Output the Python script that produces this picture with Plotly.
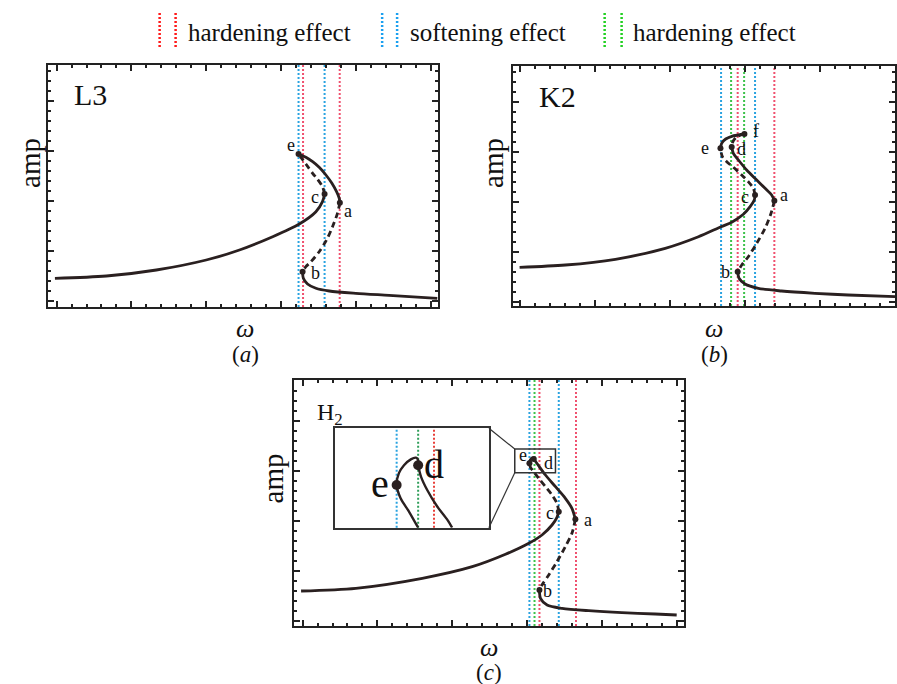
import plotly.graph_objects as go

W, H = 897, 684
FONT = "Liberation Serif, Times New Roman, serif"
CURVE = "#2a2020"
RED, BLUE, GREEN = "#f0506e", "#2aa3e0", "#3cc24a"
LEG_RED, LEG_BLUE, LEG_GREEN = "#ff1a1a", "#1aa0f0", "#22d022"

# ---------------- Panel (a): L3 ----------------
a_low_w   = [0.47, 3.91, 7.25, 10.58, 12.80, 15.02, 16.80, 17.91, 18.35, 18.49]
a_low_amp = [2.87, 3.10, 3.70, 4.70, 5.70, 7.03, 8.30, 9.53, 10.53, 11.30]
a_ce_w    = [18.49, 18.35, 18.02, 17.69, 17.24, 16.91, 16.75]
a_ce_amp  = [11.30, 12.03, 12.77, 13.37, 14.30, 14.97, 15.30]
a_ea_w    = [16.75, 17.24, 17.69, 18.13, 18.58, 18.98, 19.29, 19.47, 19.51]
a_ea_amp  = [15.30, 14.97, 14.53, 13.97, 13.20, 12.37, 11.53, 10.87, 10.43]
a_ab_w    = [19.51, 19.35, 19.02, 18.62, 18.13, 17.58, 17.24, 17.02]
a_ab_amp  = [10.43, 9.37, 8.03, 6.70, 5.53, 4.53, 4.03, 3.53]
a_hi_w    = [17.02, 17.07, 17.35, 17.91, 18.80, 20.58, 22.80, 26.02]
a_hi_amp  = [3.53, 2.87, 2.30, 1.87, 1.60, 1.37, 1.17, 0.87]
a_pts_w   = [16.75, 18.49, 19.51, 17.02]
a_pts_amp = [15.30, 11.30, 10.43, 3.53]
a_lbl     = ["e", "c", "a", "b"]
a_lbl_w   = [16.25, 17.85, 20.05, 17.85]
a_lbl_amp = [16.25, 11.05, 9.65, 3.40]
a_red     = [17.05, 19.50]
a_blue    = [16.75, 18.49]

# ---------------- Panel (b): K2 ----------------
b_low_w   = [0.45, 3.51, 6.85, 10.18, 12.40, 13.91, 14.62, 15.40, 15.85, 16.13, 16.18]
b_low_amp = [3.87, 4.10, 4.67, 5.77, 6.93, 7.93, 8.37, 9.17, 9.93, 10.60, 11.10]
b_ce_w    = [16.18, 16.07, 15.73, 15.29, 14.73, 14.29, 14.00, 13.87]
b_ce_amp  = [11.10, 11.77, 12.43, 13.10, 13.87, 14.43, 14.93, 15.77]
b_ef_w    = [13.87, 13.95, 14.22, 14.62, 15.07, 15.47]
b_ef_amp  = [15.77, 16.27, 16.70, 16.97, 17.10, 17.20]
b_fd_w    = [15.47, 15.00, 14.72, 14.62]
b_fd_amp  = [17.20, 16.95, 16.50, 15.90]
b_da_w    = [14.62, 14.73, 15.07, 15.62, 16.29, 16.85, 17.29, 17.47]
b_da_amp  = [15.90, 15.27, 14.60, 13.60, 12.60, 11.77, 11.10, 10.53]
b_ab_w    = [17.47, 17.25, 16.85, 16.29, 15.73, 15.29, 15.02]
b_ab_amp  = [10.53, 9.27, 7.77, 6.27, 4.93, 4.10, 3.43]
b_hi_w    = [15.02, 15.11, 15.51, 16.40, 17.95, 20.18, 22.40, 25.53]
b_hi_amp  = [3.43, 2.77, 2.20, 1.77, 1.50, 1.27, 1.10, 0.93]
b_pts_w   = [13.87, 14.62, 15.47, 16.18, 17.47, 15.02]
b_pts_amp = [15.77, 15.90, 17.20, 11.10, 10.53, 3.43]
b_lbl     = ["e", "d", "f", "c", "a", "b"]
b_lbl_w   = [12.85, 15.29, 16.25, 15.51, 18.10, 14.18]
b_lbl_amp = [15.77, 15.70, 17.45, 10.93, 11.10, 3.43]
b_red     = [15.02, 17.47]
b_blue    = [13.91, 16.18]
b_green   = [14.58, 15.45]

# ---------------- Panel (c): H2 ----------------
c_low_w   = [0.45, 4.11, 8.55, 11.89, 14.11, 15.67, 16.55, 17.22, 17.55, 17.67]
c_low_amp = [3.50, 3.77, 4.77, 5.93, 7.17, 8.27, 9.10, 10.10, 10.87, 11.43]
c_ce_w    = [17.67, 17.55, 17.22, 16.78, 16.33, 16.00, 15.78, 15.71]
c_ce_amp  = [11.43, 12.27, 13.10, 13.93, 14.77, 15.43, 15.87, 16.27]
c_ed_w    = [15.71, 15.77, 15.90, 16.00]
c_ed_amp  = [16.27, 16.60, 16.82, 16.70]
c_da_w    = [16.00, 16.29, 16.78, 17.45, 18.11, 18.55, 18.78]
c_da_amp  = [16.70, 16.10, 15.10, 13.93, 12.77, 11.77, 10.67]
c_ab_w    = [18.78, 18.55, 18.11, 17.55, 17.00, 16.55, 16.38]
c_ab_amp  = [10.67, 9.27, 7.93, 6.43, 5.10, 4.10, 3.60]
c_hi_w    = [16.38, 16.45, 16.89, 17.89, 19.67, 21.89, 24.11, 25.55]
c_hi_amp  = [3.60, 2.77, 2.10, 1.77, 1.53, 1.33, 1.20, 1.10]
c_pts_w   = [15.71, 16.00, 17.67, 18.78, 16.38]
c_pts_amp = [16.27, 16.70, 11.43, 10.67, 3.60]
c_lbl     = ["e", "d", "c", "a", "b"]
c_lbl_w   = [15.29, 17.00, 17.11, 19.65, 16.95]
c_lbl_amp = [17.10, 16.27, 11.27, 10.60, 3.50]
c_red     = [16.38, 18.82]
c_blue    = [15.71, 17.67]
c_green   = [16.05]

# zoom window (panel c data units) and inset curves
zoom_w    = [14.73, 17.45]
zoom_amp  = [15.33, 17.70]
i_left_w    = [16.20, 16.04, 15.89, 15.82, 15.86, 15.95, 16.07, 16.16, 16.20, 16.20]
i_left_amp  = [15.33, 15.71, 16.03, 16.35, 16.63, 16.82, 16.96, 17.00, 16.94, 16.82]
i_right_w   = [16.20, 16.25, 16.36, 16.54, 16.72, 16.80]
i_right_amp = [16.82, 16.55, 16.23, 15.83, 15.51, 15.33]
i_pts_w     = [15.82, 16.20]
i_pts_amp   = [16.35, 16.82]
i_lbl       = ["e", "d"]
i_lbl_w     = [15.52, 16.48]
i_lbl_amp   = [16.38, 16.84]
i_blue, i_green, i_red = [15.82], [16.20], [16.48]

legend_labels = ["hardening effect", "softening effect", "hardening effect"]

# ---------------- layout geometry (pixels) ----------------
def fx(px): return px / W
def fy(py): return 1 - py / H

panels = {
    # name: (left, right, top, bottom, xrange, yrange, xtick0, ytick0)
    "a": (48, 439, 65, 307, [0, 26.07], [0, 24.2], 0.58, 0.6),
    "b": (514, 897, 66, 306, [0, 25.53], [0, 24.0], 0.51, 0.4),
    "c": (295, 686, 380, 626, [0, 26.07], [0, 24.6], 0.55, 0.5),
}
inset_px = (335.7, 490, 428.3, 527.7)

fig = go.Figure()

def axis_style(dom, rng, t0):
    return dict(domain=dom, range=rng, showticklabels=False, showgrid=False,
                zeroline=False, showline=True, linecolor="#222", linewidth=2,
                mirror="allticks", ticks="inside", ticklen=6, tickwidth=1.5,
                tickcolor="#222", tick0=t0, dtick=5,
                minor=dict(ticks="inside", ticklen=3, tickwidth=1.5, tickcolor="#222",
                           tick0=t0, dtick=1, showgrid=False))

layout = dict(width=W, height=H, margin=dict(l=0, r=0, t=0, b=0),
              paper_bgcolor="white", plot_bgcolor="rgba(0,0,0,0)", showlegend=False,
              font=dict(family=FONT, color="#111", size=16))
axmap = {"a": ("", ""), "b": ("2", "2"), "c": ("3", "3")}
for k, (l, r, t, b, xr, yr, tx, ty) in panels.items():
    xs, ys = axmap[k]
    layout["xaxis" + xs] = dict(axis_style([fx(l), min(fx(r), 1.0)], xr, tx), anchor="y" + ys)
    layout["yaxis" + ys] = dict(axis_style([fy(b), fy(t)], yr, ty), anchor="x" + xs)
il, ir, it, ib = inset_px
layout["xaxis4"] = dict(domain=[fx(il), fx(ir)], range=zoom_w, anchor="y4", showticklabels=False,
                        showgrid=False, zeroline=False, showline=True, mirror=True,
                        linecolor="#333", linewidth=1.5, ticks="")
layout["yaxis4"] = dict(domain=[fy(ib), fy(it)], range=zoom_amp, anchor="x4", showticklabels=False,
                        showgrid=False, zeroline=False, showline=True, mirror=True,
                        linecolor="#333", linewidth=1.5, ticks="")
fig.update_layout(**layout)

def seg(xs, ys, ax, dashed=False, width=2.8):
    fig.add_trace(go.Scatter(x=xs, y=ys, mode="lines", xaxis="x" + ax, yaxis="y" + ax,
                             line=dict(color=CURVE, width=width, shape="spline", smoothing=0.8,
                                       dash="6px,4px" if dashed else "solid"),
                             hoverinfo="skip"))

def dots(xs, ys, ax, size=6):
    fig.add_trace(go.Scatter(x=xs, y=ys, mode="markers", xaxis="x" + ax, yaxis="y" + ax,
                             marker=dict(color=CURVE, size=size), hoverinfo="skip"))

shapes, annots = [], []

def vlines(vals, color, ax, width=2):
    for v in vals:
        shapes.append(dict(type="line", xref="x" + ax, yref="y" + ax + " domain",
                           x0=v, x1=v, y0=0, y1=1, layer="below",
                           line=dict(color=color, width=width, dash="2px,2px")))

def labels(txts, xs, ys, ax, size=18):
    for s, x, y in zip(txts, xs, ys):
        annots.append(dict(text=s, x=x, y=y, xref="x" + ax, yref="y" + ax, showarrow=False,
                           xanchor="center", yanchor="middle",
                           font=dict(family=FONT, size=size, color="#111")))

# panel a
A = ""
vlines(a_blue, BLUE, A); vlines(a_red, RED, A)
seg(a_low_w, a_low_amp, A); seg(a_ce_w, a_ce_amp, A, True); seg(a_ea_w, a_ea_amp, A)
seg(a_ab_w, a_ab_amp, A, True); seg(a_hi_w, a_hi_amp, A)
dots(a_pts_w, a_pts_amp, A)
labels(a_lbl, a_lbl_w, a_lbl_amp, A)

# panel b
B = "2"
vlines(b_blue, BLUE, B); vlines(b_green, GREEN, B); vlines(b_red, RED, B)
seg(b_low_w, b_low_amp, B); seg(b_ce_w, b_ce_amp, B, True); seg(b_ef_w, b_ef_amp, B)
seg(b_fd_w, b_fd_amp, B, True); seg(b_da_w, b_da_amp, B)
seg(b_ab_w, b_ab_amp, B, True); seg(b_hi_w, b_hi_amp, B)
dots(b_pts_w, b_pts_amp, B)
labels(b_lbl, b_lbl_w, b_lbl_amp, B)

# panel c
C = "3"
vlines(c_blue, BLUE, C); vlines(c_green, GREEN, C); vlines(c_red, RED, C)
seg(c_low_w, c_low_amp, C); seg(c_ce_w, c_ce_amp, C, True); seg(c_ed_w, c_ed_amp, C)
seg(c_da_w, c_da_amp, C); seg(c_ab_w, c_ab_amp, C, True); seg(c_hi_w, c_hi_amp, C)
dots(c_pts_w, c_pts_amp, C)
labels(c_lbl, c_lbl_w, c_lbl_amp, C)

# inset
I = "4"
vlines(i_blue, BLUE, I); vlines(i_green, "#2f9e5a", I); vlines(i_red, "#e8403a", I)
seg(i_left_w, i_left_amp, I, width=2.4); seg(i_right_w, i_right_amp, I, width=2.4)
dots(i_pts_w, i_pts_amp, I, size=10)
labels(i_lbl, i_lbl_w, i_lbl_amp, I, size=40)

# zoom box in panel c and connectors to inset
l, r, t, b, xr, yr, _, _ = panels["c"]
def cx(px): return xr[0] + (px - l) / (r - l) * (xr[1] - xr[0])
def cy(py): return yr[0] + (b - py) / (b - t) * (yr[1] - yr[0])
shapes.append(dict(type="rect", xref="x3", yref="y3", x0=zoom_w[0], x1=zoom_w[1],
                   y0=zoom_amp[0], y1=zoom_amp[1], line=dict(color="#333", width=1.5)))
shapes.append(dict(type="line", xref="x3", yref="y3", x0=cx(ir), y0=cy(it),
                   x1=zoom_w[0], y1=zoom_amp[1], line=dict(color="#333", width=1.2)))
shapes.append(dict(type="line", xref="x3", yref="y3", x0=cx(ir), y0=cy(ib),
                   x1=zoom_w[0], y1=zoom_amp[0], line=dict(color="#333", width=1.2)))

# panel titles, axis titles, captions
def ptext(s, px, py, size, xanchor="center", **kw):
    annots.append(dict(text=s, x=fx(px), y=fy(py), xref="paper", yref="paper", showarrow=False,
                       xanchor=xanchor, yanchor="middle",
                       font=dict(family=FONT, size=size, color="#111"), **kw))

ptext("L3", 91, 95, 30)
ptext("K2", 559, 96, 30)
ptext("H<sub>2</sub>", 331, 414, 24)
for xa, ya, yw, yc, cap, xw in [(30, 163, 328, 354, "a", 246), (494, 163, 328, 354, "b", 716),
                                (274, 478, 647, 672, "c", 490)]:
    ptext("amp", xa, ya, 29, textangle=-90)
    ptext("<i>ω</i>", xw, yw, 26)
    ptext("(<i>" + cap + "</i>)", xw, yc, 23)

# top legend
leg_lines = [(160, 176, LEG_RED), (383, 398, LEG_BLUE), (606, 623, LEG_GREEN)]
leg_text_x = [186, 409, 632]
for (x1, x2, col), tx, s in zip(leg_lines, leg_text_x, legend_labels):
    for xx in (x1, x2):
        shapes.append(dict(type="line", xref="paper", yref="paper", x0=fx(xx), x1=fx(xx),
                           y0=fy(13), y1=fy(48), line=dict(color=col, width=2.5, dash="2px,2px")))
    ptext(s, tx, 32, 25, xanchor="left")

fig.update_layout(shapes=shapes, annotations=annots)
fig.write_html("out.html", config={"displayModeBar": False},
               post_script="document.body.style.margin='0';document.body.style.overflow='hidden';")
